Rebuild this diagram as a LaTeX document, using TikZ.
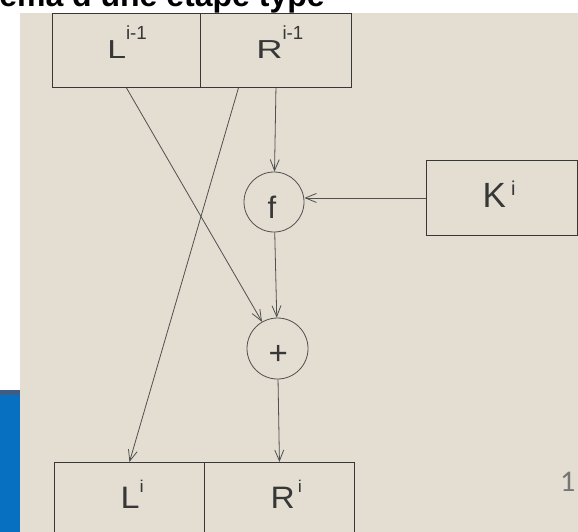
\documentclass[tikz,border=0pt]{standalone}
\usepackage{fontspec}
\setmainfont{Liberation Sans}
\newfontfamily\numfont{Carlito}
\usetikzlibrary{arrows.meta}
\definecolor{beige}{RGB}{227,221,210}
\definecolor{slideblue}{RGB}{8,112,192}
\definecolor{bluedark}{RGB}{62,92,132}
\definecolor{inkcol}{RGB}{55,55,55}
\definecolor{wirecol}{RGB}{80,80,80}
\definecolor{pagenum}{RGB}{118,118,118}
\begin{document}
\begin{tikzpicture}[x=1pt,y=-1pt,
  box/.style={draw=inkcol,line width=0.9pt,minimum height=74pt,inner sep=0,anchor=north west},
  op/.style={draw=wirecol,circle,line width=0.8pt,minimum size=60pt,inner sep=0},
  lbl/.style={inner sep=0,anchor=base west,text=inkcol},
  conn/.style={draw=wirecol,line width=0.8pt,-{Straight Barb[length=11pt,width=9pt,line width=0.8pt]}}
]
\useasboundingbox (0,0) rectangle (578,532);
\fill[white] (0,0) rectangle (578,532);
% cut-off title (only its lowest part shows above the picture)
\node[inner sep=0,anchor=base west,font=\bfseries\fontsize{32}{32}\selectfont] (title) at (-59.6,6.5) {Schéma d'une étape type};
% slide decorations
\fill[slideblue] (0,390) rectangle (19.5,532);
\fill[bluedark] (0,390) rectangle (19.5,394.5);
\fill[beige] (19.5,13) rectangle (578,532);

% boxes
\node[box,minimum width=148pt] (Ltop) at (52,13) {};
\node[box,minimum width=151pt] (Rtop) at (200,13) {};
\node[box,minimum width=150pt] (Lbot) at (54,462) {};
\node[box,minimum width=150pt] (Rbot) at (204,462) {};
\node[box,minimum width=151pt,minimum height=75pt] (K) at (426,160) {};

% operators
\node[op] (f) at (274,202) {};
\node[op,minimum size=61pt] (plus) at (277.5,348.5) {};

% labels
\node[lbl,font=\fontsize{26}{26}\selectfont,xscale=1.3] (Ltoplab) at (107,59) {L\raisebox{19pt}{\scalebox{0.76}[1]{\fontsize{19}{19}\selectfont i-1}}};
\node[lbl,font=\fontsize{26}{26}\selectfont,xscale=1.4] (Rtoplab) at (256,59) {R\raisebox{19pt}{\scalebox{0.7}[1]{\fontsize{19}{19}\selectfont i-1}}};
\node[lbl,font=\fontsize{31}{31}\selectfont,xscale=1.1] (Lbotlab) at (120.5,508) {L\raisebox{16pt}{\fontsize{17}{17}\selectfont i}};
\node[lbl,font=\fontsize{31}{31}\selectfont,xscale=1.08] (Rbotlab) at (270.3,508) {R\kern3pt\raisebox{16pt}{\fontsize{17}{17}\selectfont i}};
\node[lbl,font=\fontsize{35}{35}\selectfont] (Klab) at (482.5,207) {K\kern5pt\raisebox{12pt}{\fontsize{20}{20}\selectfont i}};
\node[lbl,font=\fontsize{31}{31}\selectfont] (flab) at (267.5,218) {f};
\node[lbl,font=\fontsize{33}{33}\selectfont] (pluslab) at (268.5,364.3) {+};
\node[inner sep=0,anchor=base west,text=pagenum,font=\numfont\fontsize{30}{30}\selectfont] (pnum) at (560,491) {1};

% connectors
\draw[conn] (Ltop.south) -- (plus);
\draw[conn] ([xshift=-37.5pt]Rtop.south) -- (Lbot.north);
\draw[conn] (Rtop.south) -- (f);
\draw[conn] (f) -- (plus);
\draw[conn] (plus) -- (Rbot.north);
\draw[conn] (K.west) -- (K.west -| f.east);
\end{tikzpicture}
\end{document}
